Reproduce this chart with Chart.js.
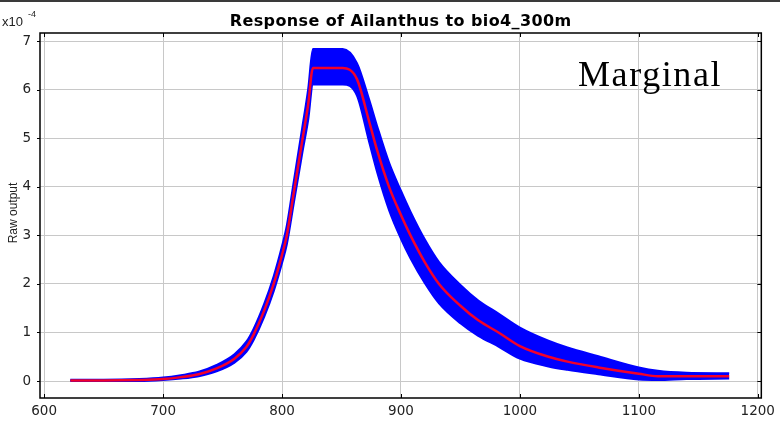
<!DOCTYPE html>
<html>
<head>
<meta charset="utf-8">
<script src="https://cdn.jsdelivr.net/npm/chart.js@4"></script>
<style>
    html, body { margin: 0; padding: 0; background: #ffffff; }
    #wrap { width: 780px; height: 423px; position: relative; }
</style>
</head>
<body>
<div id="wrap"><canvas id="grafica"></canvas></div>
<script>
// valores (eje y en unidades de 1e-4)
const titulo = "Response of Ailanthus to bio4_300m";
const etiquetaY = "Raw output";
const xTicks = [600, 700, 800, 900, 1000, 1100, 1200];
const yTicks = [0, 1, 2, 3, 4, 5, 6, 7];

const xVals = [622, 650, 680, 700, 715, 730, 745, 760, 770, 776, 785, 793, 800, 804, 810, 817, 822, 826, 851, 863, 873, 880, 890, 900, 908, 920, 932, 950, 965, 982, 1000, 1024, 1040, 1066, 1100, 1116, 1140, 1176];
const media = [0.01, 0.01, 0.02, 0.04, 0.08, 0.14, 0.26, 0.46, 0.7, 0.95, 1.45, 2.0, 2.6, 3.0, 3.9, 4.95, 5.7, 6.45, 6.45, 6.22, 5.37, 4.75, 4.0, 3.42, 3.0, 2.45, 2.0, 1.55, 1.25, 1.0, 0.72, 0.5, 0.4, 0.28, 0.15, 0.1, 0.1, 0.1];
const superior = [0.025, 0.025, 0.04, 0.07, 0.12, 0.19, 0.33, 0.55, 0.81, 1.07, 1.59, 2.16, 2.78, 3.2, 4.13, 5.22, 6.02, 6.84, 6.84, 6.55, 5.82, 5.25, 4.5, 3.92, 3.49, 2.92, 2.45, 1.98, 1.66, 1.39, 1.1, 0.83, 0.69, 0.51, 0.28, 0.21, 0.17, 0.16];
const inferior = [0.0, 0.0, 0.0, 0.02, 0.05, 0.1, 0.2, 0.38, 0.6, 0.84, 1.32, 1.85, 2.43, 2.81, 3.68, 4.69, 5.38, 6.11, 6.11, 5.88, 4.95, 4.3, 3.52, 2.93, 2.53, 2.02, 1.6, 1.19, 0.93, 0.71, 0.46, 0.3, 0.23, 0.14, 0.03, 0.02, 0.04, 0.05];

function puntos(ys) {
    return xVals.map((x, i) => ({ x: x, y: ys[i] }));
}

// caja, marcas, titulo y textos sueltos
const decoracion = {
    id: "decoracion",
    afterDraw(chart) {
        const ctx = chart.ctx;
        const a = chart.chartArea;
        const sx = chart.scales.x;
        const sy = chart.scales.y;
        ctx.save();
        // marco superior de la captura
        ctx.fillStyle = "#3a3a3a";
        ctx.fillRect(0, 0, 780, 2);

        ctx.strokeStyle = "#000000";
        ctx.lineWidth = 1.5;
        ctx.strokeRect(a.left, a.top, a.right - a.left, a.bottom - a.top);
        ctx.lineWidth = 1;
        xTicks.forEach((v) => {
            const px = Math.round(sx.getPixelForValue(v)) + 0.5;
            ctx.beginPath();
            ctx.moveTo(px, a.bottom);
            ctx.lineTo(px, a.bottom - 4);
            ctx.moveTo(px, a.top);
            ctx.lineTo(px, a.top + 4);
            ctx.stroke();
        });
        yTicks.forEach((v) => {
            const py = Math.round(sy.getPixelForValue(v)) + 0.5;
            ctx.beginPath();
            ctx.moveTo(a.left, py);
            ctx.lineTo(a.left - 3, py);
            ctx.moveTo(a.right, py);
            ctx.lineTo(a.right - 4, py);
            ctx.stroke();
        });

        ctx.fillStyle = "#000000";
        ctx.textAlign = "center";
        ctx.textBaseline = "alphabetic";
        ctx.font = "bold 16px 'DejaVu Sans'";
        ctx.letterSpacing = "0.4px";
        ctx.fillText(titulo, (a.left + a.right) / 2, 26);
        ctx.letterSpacing = "0px";

        ctx.font = "13px 'Liberation Sans'";
        ctx.textAlign = "left";
        ctx.fillStyle = "#222222";
        ctx.fillText("x10", 2, 26);
        ctx.font = "9px 'Liberation Sans'";
        ctx.fillText("-4", 28, 17);

        ctx.save();
        ctx.translate(17, 213);
        ctx.rotate(-Math.PI / 2);
        ctx.textAlign = "center";
        ctx.font = "12px 'Liberation Sans'";
        ctx.fillText(etiquetaY, 0, 0);
        ctx.restore();

        ctx.fillStyle = "#000000";
        ctx.font = "36px 'Liberation Serif'";
        ctx.letterSpacing = "1.6px";
        ctx.textAlign = "left";
        ctx.fillText("Marginal", 578, 86);
        ctx.restore();
    },
};

window.onload = function () {
    const ctx = document.getElementById("grafica").getContext("2d");
    new Chart(ctx, {
        type: "line",
        data: {
            datasets: [
                {
                    label: "media",
                    data: puntos(media),
                    borderColor: "#f2002a",
                    borderWidth: 2.5,
                    pointRadius: 0,
                    fill: false,
                    cubicInterpolationMode: "monotone",
                    order: 0,
                },
                {
                    label: "superior",
                    data: puntos(superior),
                    borderColor: "#0000ff",
                    backgroundColor: "#0000ff",
                    borderWidth: 2,
                    pointRadius: 0,
                    fill: "+1",
                    cubicInterpolationMode: "monotone",
                    order: 1,
                },
                {
                    label: "inferior",
                    data: puntos(inferior),
                    borderColor: "#0000ff",
                    backgroundColor: "#0000ff",
                    borderWidth: 2,
                    pointRadius: 0,
                    fill: false,
                    cubicInterpolationMode: "monotone",
                    order: 2,
                },
            ],
        },
        options: {
            responsive: true,
            maintainAspectRatio: false,
            animation: false,
            layout: { padding: { top: 33, right: 15, left: 0, bottom: 0 } },
            plugins: {
                legend: { display: false },
                title: { display: false },
                tooltip: { enabled: false },
            },
            scales: {
                x: {
                    type: "linear",
                    min: 596.5,
                    max: 1203,
                    afterFit: (s) => { s.height = 25; },
                    afterBuildTicks: (s) => { s.ticks = xTicks.map((v) => ({ value: v })); },
                    grid: { color: "#c8c8c8", lineWidth: 1, drawTicks: false },
                    border: { display: false },
                    ticks: {
                        padding: 5,
                        color: "#222222",
                        font: { family: "'DejaVu Sans'", size: 13.5 },
                        callback: (v) => String(v),
                    },
                },
                y: {
                    type: "linear",
                    min: -0.35,
                    max: 7.17,
                    afterFit: (s) => { s.width = 40; },
                    afterBuildTicks: (s) => { s.ticks = yTicks.map((v) => ({ value: v })); },
                    grid: { color: "#c8c8c8", lineWidth: 1, drawTicks: false },
                    border: { display: false },
                    ticks: {
                        padding: 9,
                        color: "#222222",
                        font: { family: "'DejaVu Sans'", size: 13.5 },
                        callback: (v) => String(v),
                    },
                },
            },
        },
        plugins: [decoracion],
    });
};
</script>
</body>
</html>
